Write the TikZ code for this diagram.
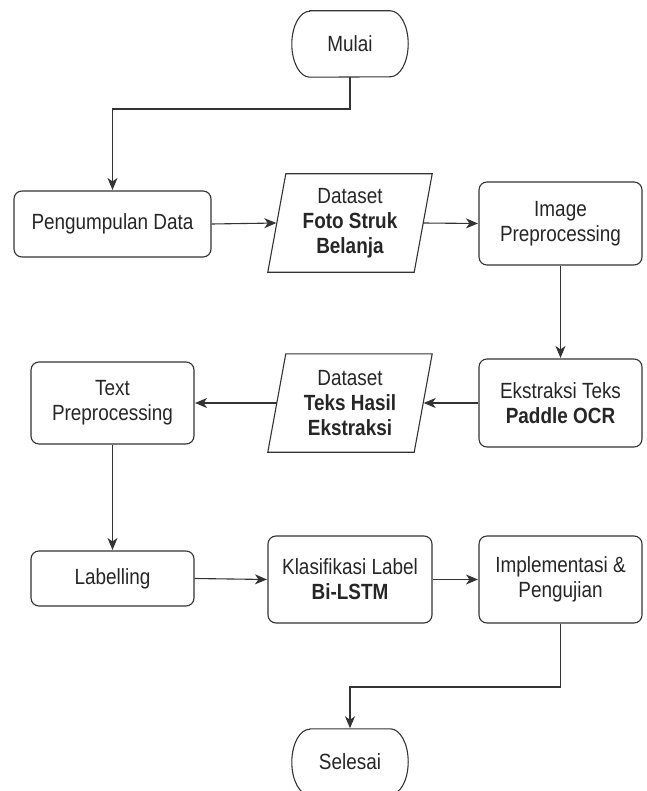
\documentclass[tikz,border=0pt]{standalone}
\usepackage{fontspec}
\setmainfont{Liberation Sans}[FakeStretch=0.86]
\usetikzlibrary{arrows.meta}
\definecolor{ink}{HTML}{262626}
\definecolor{edge}{HTML}{333333}
\tikzset{
  txt/.style={font=\fontsize{22pt}{25pt}\selectfont, text=ink, align=center, inner sep=0pt},
  procbox/.style={txt, draw=edge, line width=1.1pt, rounded corners=8pt},
  ghost/.style={txt, draw=none},
  outline/.style={draw=edge, line width=1.1pt},
  flow/.style={draw=edge, line width=1.1pt, -{Stealth[length=12pt,width=10pt,inset=3.5pt]}, shorten >=0.5pt},
}
\begin{document}
\begin{tikzpicture}[x=1pt,y=-1pt]
\clip (0,0) rectangle (646,791);
\useasboundingbox (0,0) rectangle (646,791);
\fill[white] (0,0) rectangle (646,791);

% terminators
\node[ghost, minimum width=116pt, minimum height=66pt] (mulai) at (350,44) {Mulai};
\draw[outline] ([xshift=18pt]mulai.north west) -- ([xshift=-18pt]mulai.north east)
  arc[start angle=90, end angle=-90, x radius=18pt, y radius=33pt]
  -- ([xshift=18pt]mulai.south west)
  arc[start angle=-90, end angle=-270, x radius=18pt, y radius=33pt] -- cycle;

\node[ghost, minimum width=116pt, minimum height=66pt] (sel) at (350,762) {Selesai};
\draw[outline] ([xshift=18pt]sel.north west) -- ([xshift=-18pt]sel.north east)
  arc[start angle=90, end angle=-90, x radius=18pt, y radius=33pt]
  -- ([xshift=18pt]sel.south west)
  arc[start angle=-90, end angle=-270, x radius=18pt, y radius=33pt] -- cycle;

% process boxes
\node[procbox, minimum width=197pt, minimum height=66pt] (pd) at (112.5,224) {Pengumpulan Data};
\node[procbox, minimum width=163pt, minimum height=83pt] (ip) at (560.5,223.5) {Image\\Preprocessing};
\node[procbox, minimum width=163pt, minimum height=88pt] (ek) at (560.5,403) {Ekstraksi Teks\\\textbf{Paddle OCR}};
\node[procbox, minimum width=163pt, minimum height=82pt] (tp) at (112.5,403) {Text\\Preprocessing};
\node[procbox, minimum width=163pt, minimum height=55pt] (lab) at (112.5,578.5) {Labelling};
\node[procbox, minimum width=164pt, minimum height=87pt] (kl) at (350,579.5) {Klasifikasi Label\\\textbf{Bi-LSTM}};
\node[procbox, minimum width=163pt, minimum height=87pt] (impl) at (560.5,579.5) {Implementasi \&\\Pengujian};

% data (parallelograms)
\node[ghost, minimum width=164pt, minimum height=98pt] (d1) at (350,223) {Dataset\\\textbf{Foto Struk}\\\textbf{Belanja}};
\draw[outline] (d1.south west) -- ([xshift=18pt]d1.north west) -- (d1.north east) -- ([xshift=-18pt]d1.south east) -- cycle;
\node[ghost, minimum width=164pt, minimum height=98pt] (d2) at (350,403) {Dataset\\\textbf{Teks Hasil}\\\textbf{Ekstraksi}};
\draw[outline] (d2.south west) -- ([xshift=18pt]d2.north west) -- (d2.north east) -- ([xshift=-18pt]d2.south east) -- cycle;

% connectors
\coordinate (k1) at (350,109);
\coordinate (k2) at (112.5,109);
\draw[flow] (mulai.south) -- (k1) -- (k2) -- (pd.north);
\draw[flow] (pd.east) -- ([xshift=9pt]d1.west);
\draw[flow] ([xshift=-9pt]d1.east) -- (ip.west);
\draw[flow] (ip.south) -- (ek.north);
\draw[flow] (ek.west) -- ([xshift=-9pt]d2.east);
\draw[flow] ([xshift=9pt]d2.west) -- (tp.east);
\draw[flow] (tp.south) -- (lab.north);
\draw[flow] (lab.east) -- (kl.west);
\draw[flow] (kl.east) -- (impl.west);
\coordinate (k3) at (560.5,687);
\coordinate (k4) at (350,687);
\draw[flow] (impl.south) -- (k3) -- (k4) -- (sel.north);
\end{tikzpicture}
\end{document}
